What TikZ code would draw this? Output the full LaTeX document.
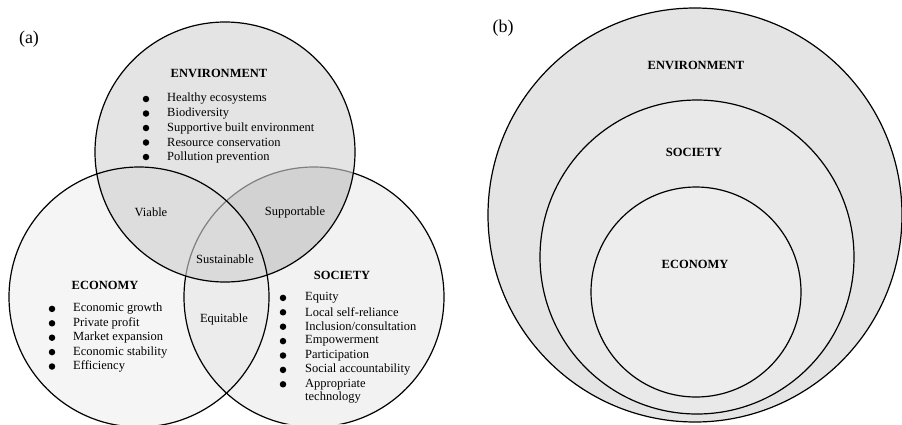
\documentclass[tikz,border=0pt]{standalone}
\usepackage{fontspec}
\setmainfont{Liberation Serif}
\usetikzlibrary{positioning}

\begin{document}
\begin{tikzpicture}[x=1pt,y=-1pt]
\tikzstyle{every node}=[inner sep=0pt, font=\fontsize{12.5}{14}\selectfont]
\tikzstyle{head}=[font=\fontsize{12.5}{14}\selectfont\bfseries]
\tikzstyle{tag}=[font=\fontsize{18}{20}\selectfont]
\tikzstyle{item}=[anchor=west]
\tikzstyle{dot}=[circle, fill, minimum size=6.5pt]
\tikzstyle{ring}=[line width=1.2pt]
\useasboundingbox (0,0) rectangle (902,424);
% (a) three circles
\coordinate (cenv) at (225,152);
\coordinate (ceco) at (139,297);
\coordinate (csoc) at (314,297);
\fill[gray!8] (ceco) circle (130);
\fill[gray!10] (csoc) circle (130);
\fill[gray!21] (cenv) circle (130);
\begin{scope}
\clip (cenv) circle (130);
\fill[gray!27] (ceco) circle (130);
\fill[gray!35] (csoc) circle (130);
\clip (ceco) circle (130);
\fill[gray!29] (csoc) circle (130);
\end{scope}
\begin{scope}[even odd rule]
\clip (ceco) circle (130);
\clip (0,0) rectangle (902,424) (cenv) circle (130);
\fill[gray!15] (csoc) circle (130);
\end{scope}
% society rim is pale where it runs under the environment
\begin{scope}[even odd rule]
\clip (0,0) rectangle (902,424) (cenv) circle (130);
\draw[ring] (csoc) circle (130);
\end{scope}
\begin{scope}
\clip (cenv) circle (130);
\draw[ring, gray] (csoc) circle (130);
\end{scope}
\draw[ring] (cenv) circle (130);
\draw[ring] (ceco) circle (130);
\node[tag] (la) at (29,39) {(a)};
\node[head] (henv) at (219,73) {ENVIRONMENT};
\foreach \t [count=\i] in {Healthy ecosystems, Biodiversity,
  Supportive built environment, Resource conservation, Pollution prevention} {
  \node[dot] (eb\i) at (146,{84.5+14.5*\i}) {};
  \node[item] (et\i) at (167,{84.5+14.5*\i}) {\t};
}
\node[head] (heco) at (105,285) {ECONOMY};
\foreach \t [count=\i] in {Economic growth, Private profit,
  Market expansion, Economic stability, Efficiency} {
  \node[dot] (cb\i) at (52,{294.5+14.4*\i}) {};
  \node[item] (ct\i) at (73,{294.5+14.4*\i}) {\t};
}
\node[head] (hsoc) at (342,275) {SOCIETY};
\foreach \t [count=\i] in {Equity, Local self-reliance,
  Inclusion/consultation, Empowerment, Participation,
  Social accountability, Appropriate} {
  \node[dot] (sb\i) at (283,{283.5+14.4*\i}) {};
  \node[item] (st\i) at (305,{283.5+14.4*\i}) {\t};
}
\node[item] (st8) at (305,398) {technology};
\node (viable) at (151,212) {Viable};
\node (supp) at (295,212) {Supportable};
\node (sust) at (225,259) {Sustainable};
\node (equi) at (224,319) {Equitable};
% (b) nested circles
\draw[ring, fill=gray!21] (695,215) circle (207);
\draw[ring, fill=gray!17] (697,257) circle (157);
\draw[ring, fill=gray!14] (696,292) circle (105);
\node[tag] (lb) at (503,28) {(b)};
\node[head] (benv) at (696,65) {ENVIRONMENT};
\node[head] (bsoc) at (694,152) {SOCIETY};
\node[head] (beco) at (695,264) {ECONOMY};
\end{tikzpicture}
\end{document}
